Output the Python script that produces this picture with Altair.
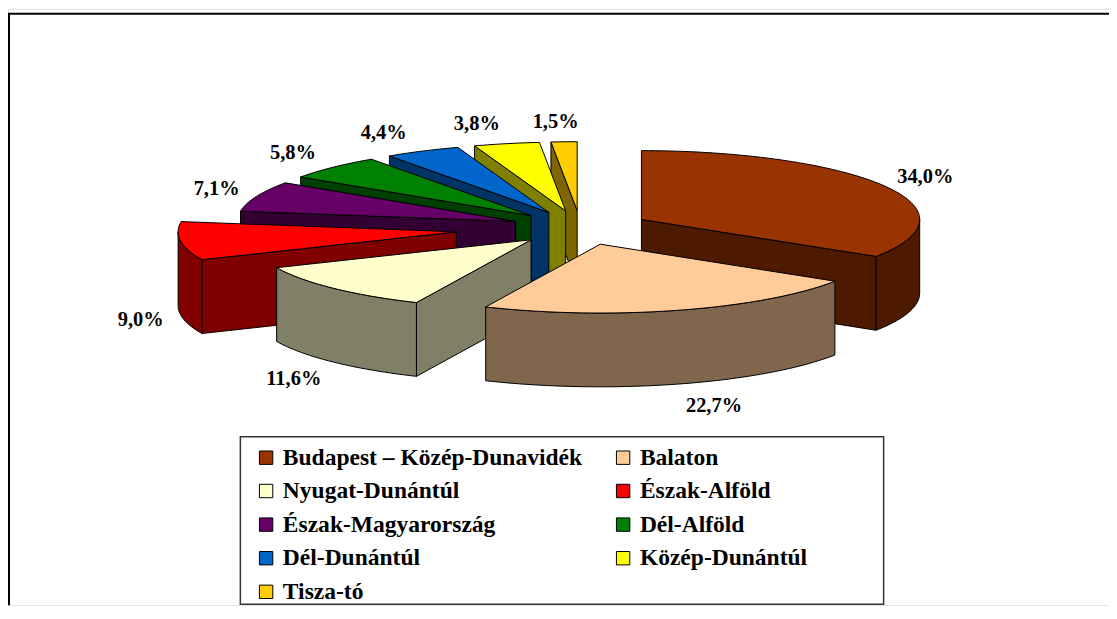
import math
import altair as alt
import pandas as pd

# ---- data -------------------------------------------------------------
regions = [
    "Budapest – Közép-Dunavidék", "Balaton", "Nyugat-Dunántúl", "Észak-Alföld",
    "Észak-Magyarország", "Dél-Alföld", "Dél-Dunántúl", "Közép-Dunántúl", "Tisza-tó",
]
shares = [34.0, 22.7, 11.6, 9.0, 7.1, 5.8, 4.4, 3.8, 1.5]
labels = ["34,0%", "22,7%", "11,6%", "9,0%", "7,1%", "5,8%", "4,4%", "3,8%", "1,5%"]
top_colors = ["#993300", "#FFCC99", "#FFFFCC", "#FF0000", "#660066",
              "#008000", "#0066CC", "#FFFF00", "#FFCC00"]
side_colors = ["#4D1A00", "#80664D", "#808066", "#800000", "#330033",
               "#004000", "#003366", "#808000", "#806600"]
explode = [0.25, 0.25, 0.25, 0.45, 0.25, 0.25, 0.25, 0.25, 0.25]

# ---- layout of the 3-D pie ---------------------------------------------
W, H = 1104, 598
CX, CY = 574.0, 219.5
RX, RY = 279.0, 69.0
DEPTH = 74.0

total = sum(shares)
starts, ends = [], []
acc = 0.0
for s in shares:
    starts.append(acc / total * 360.0)
    acc += s
    ends.append(acc / total * 360.0)


def rim(ax, ay, a):
    t = math.radians(a)
    return ax + RX * math.sin(t), ay - RY * math.cos(t)


def arc(ax, ay, a1, a2, dy=0.0):
    n = max(2, int(abs(a2 - a1) / 1.5) + 2)
    pts = []
    for j in range(n):
        a = a1 + (a2 - a1) * j / (n - 1)
        x, y = rim(ax, ay, a)
        pts.append((x, y + dy))
    return pts


slices = []
for i in range(len(shares)):
    m = (starts[i] + ends[i]) / 2.0
    t = math.radians(m)
    ax = CX + explode[i] * RX * math.sin(t)
    ay = CY - explode[i] * RY * math.cos(t)
    slices.append((ay, i, ax, m))
slices.sort()  # paint from back to front

poly_rows, label_rows, legend_rows = [], [], []
counter = [0]


def add(points, color):
    for k, (x, y) in enumerate(points):
        poly_rows.append({"pid": f"p{counter[0]:03d}", "k": k, "x": x, "y": y, "col": color})
    counter[0] += 1


for ay, i, ax, m in slices:
    a1, a2 = starts[i], ends[i]
    for a, vis in ((a1, 180 < a1 < 360), (a2, 0 < a2 < 180)):
        if vis:
            px, py = rim(ax, ay, a)
            add([(ax, ay), (px, py), (px, py + DEPTH), (ax, ay + DEPTH)], side_colors[i])
    b1, b2 = max(a1, 90.0), min(a2, 270.0)
    if b2 > b1:
        add(arc(ax, ay, b1, b2) + arc(ax, ay, b1, b2, DEPTH)[::-1], side_colors[i])
    add([(ax, ay)] + arc(ax, ay, a1, a2), top_colors[i])

    t = math.radians(m)
    s, c = math.sin(t), math.cos(t)
    rx_, ry_ = rim(ax, ay, m)
    label_rows.append({
        "x": rx_ + 40 * math.tanh(s / 0.22),
        "y": ry_ - 20 * c + (DEPTH + 3 if c < 0 else 0),
        "label": labels[i],
    })
    legend_rows.append({"x": ax + 0.5 * RX * s, "y": ay - 0.5 * RY * c, "region": regions[i]})

poly_df = pd.DataFrame(poly_rows)
label_df = pd.DataFrame(label_rows)
legend_df = pd.DataFrame(legend_rows)

# legend fills column by column: reorder so that it reads row by row
leg_order = [regions[j] for j in range(0, len(regions), 2)] + \
            [regions[j] for j in range(1, len(regions), 2)]
leg_colors = [top_colors[regions.index(r)] for r in leg_order]

xs = alt.X("x:Q", scale=alt.Scale(domain=[0, W], nice=False, zero=False), axis=None)
ys = alt.Y("y:Q", scale=alt.Scale(domain=[0, H], nice=False, zero=False, reverse=True), axis=None)

legend_layer = alt.Chart(legend_df).mark_square(size=20, strokeWidth=0).encode(
    x=xs, y=ys,
    fill=alt.Fill(
        "region:N",
        scale=alt.Scale(domain=leg_order, range=leg_colors),
        legend=alt.Legend(
            title=None, orient="none", legendX=247, legendY=438, columns=2,
            symbolType="square", symbolSize=180, symbolStrokeColor="black",
            symbolStrokeWidth=1, symbolOpacity=1,
            labelFont="Liberation Serif", labelFontSize=23.6, labelFontWeight="bold",
            labelColor="black", labelLimit=600, labelOffset=5,
            rowPadding=8.7, columnPadding=29, padding=0,
        ),
    ),
)

poly_layer = alt.Chart(poly_df).mark_line(
    stroke="black", strokeWidth=1, strokeJoin="round", interpolate="linear-closed"
).encode(
    x=xs, y=ys,
    detail="pid:N",
    order="k:Q",
    fill=alt.Fill("col:N", scale=None),
)

text_layer = alt.Chart(label_df).mark_text(
    font="Liberation Serif", fontSize=20.5, fontWeight="bold", color="black"
).encode(x=xs, y=ys, text="label:N")

one = pd.DataFrame({"v": [0]})
top_line = alt.Chart(one).mark_rule(color="black", strokeWidth=2).encode(
    x=alt.value(0), x2=alt.value(W), y=alt.value(5)
)
left_line = alt.Chart(one).mark_rule(color="black", strokeWidth=2).encode(
    x=alt.value(1), y=alt.value(5), y2=alt.value(H)
)
legend_box = alt.Chart(one).mark_rect(
    fill="white", fillOpacity=0, stroke="#333333", strokeWidth=1.5
).encode(x=alt.value(233), x2=alt.value(878), y=alt.value(429), y2=alt.value(597))

chart = alt.layer(
    legend_layer, poly_layer, text_layer, top_line, left_line, legend_box
).properties(
    width=W, height=H, padding=0,
    autosize=alt.AutoSizeParams(type="none"),
).configure_view(stroke=None).configure(background="white")

chart.save("out.html", embed_options={"renderer": "svg", "actions": False})
